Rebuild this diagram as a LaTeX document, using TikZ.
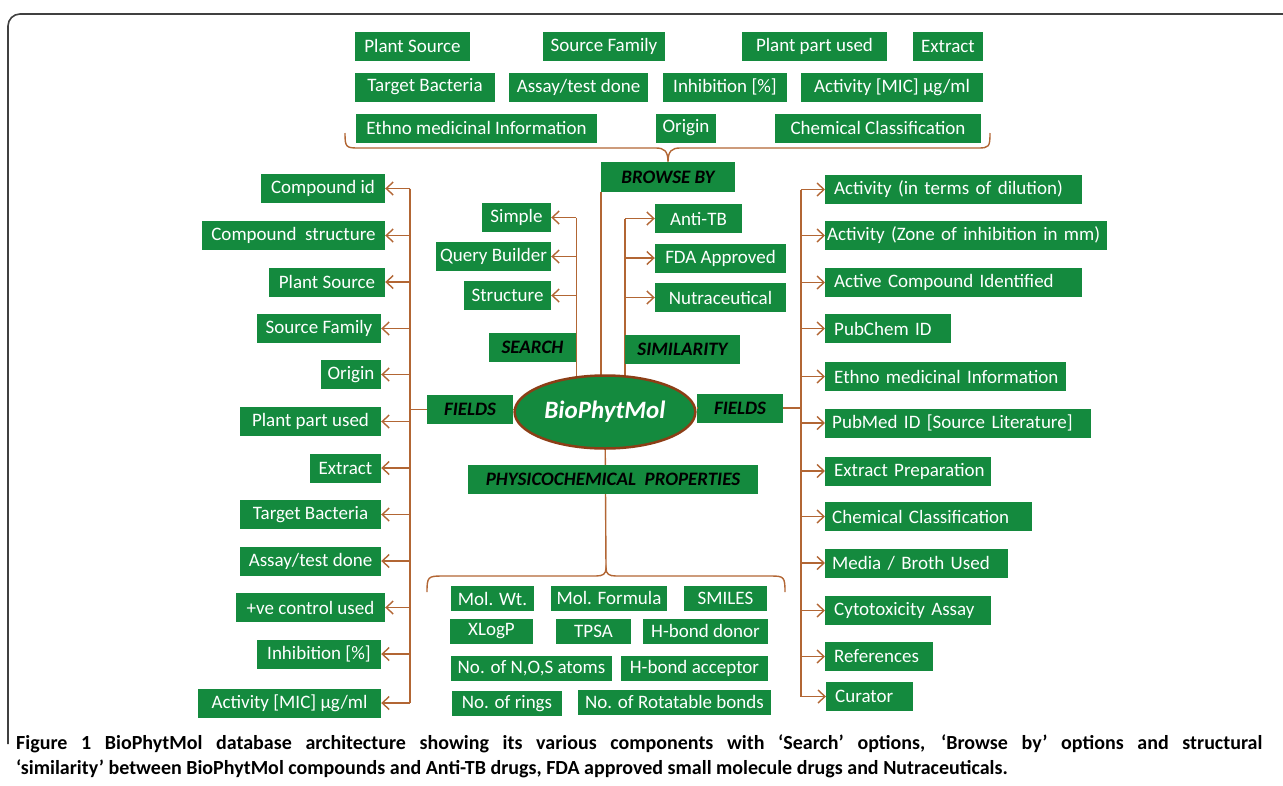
\documentclass[tikz,border=0pt]{standalone}
\usepackage{fontspec}
\setmainfont{Carlito}
\usetikzlibrary{shapes.geometric,arrows.meta,backgrounds}
\definecolor{boxgreen}{RGB}{20,138,62}
\definecolor{linebrown}{RGB}{178,102,52}
\definecolor{rimbrown}{RGB}{140,62,22}

\begin{document}
\begin{tikzpicture}[x=1pt, y=-1pt,
    box/.style={rectangle, fill=boxgreen, text=white, inner sep=0pt, minimum height=29pt, font=\fontsize{19}{22}\selectfont},
    small/.style={box, minimum height=25pt},
    head/.style={box, text=black, font=\fontsize{19}{22}\selectfont\bfseries\itshape},
    rbox/.style={box, anchor=west, inner xsep=9pt, execute at begin node={\hbox\bgroup}, execute at end node={\egroup}},
    link/.style={draw=linebrown, line width=1.4pt},
    arr/.style={link, -{Straight Barb[length=7pt, width=13pt]}}]
    \useasboundingbox (0,0) rectangle (1283,785);
    \draw [line width=1.6pt, black!75, rounded corners=12pt] (8,744) -- (8,14) -- (1283,14);

    % browse by
    \node [box, minimum width=115pt] (tplant) at (412.5,46) {Plant Source};
    \node [box, minimum width=122pt] (tfamily) at (604,46) {Source Family};
    \node [box, minimum width=145pt] (tpart) at (814.5,46) {Plant part used};
    \node [box, minimum width=70pt] (textract) at (948,46) {Extract};
    \node [box, minimum width=140pt] (tbact) at (425,87) {Target Bacteria};
    \node [box, minimum width=139pt] (tassay) at (578.5,87) {Assay/test done};
    \node [box, minimum width=124pt] (tinhib) at (725,87) {Inhibition [\%]};
    \node [box, minimum width=182pt] (tmic) at (892,87) {Activity [MIC] µg/ml};
    \node [box, minimum width=241pt] (tethno) at (476.5,128) {Ethno medicinal Information};
    \node [box, minimum width=60pt] (torigin) at (686,128) {Origin};
    \node [box, minimum width=206pt] (tchem) at (878,128) {Chemical Classification};
    \node [head, minimum width=134pt, minimum height=30pt] (browse) at (668,177) {BROWSE BY};
    \draw [link] (345,133) .. controls (345,147) and (346,148) .. (358,148) -- (656,148)
        .. controls (664,148) and (668,151) .. (browse.north)
        .. controls (668,151) and (672,148) .. (680,148) -- (978,148)
        .. controls (989,148) and (990,147) .. (990,133);

    % centre
    \node [ellipse, fill=boxgreen, draw=rimbrown, line width=2.5pt, minimum width=158pt, minimum height=73pt,
        text=white, font=\fontsize{25}{30}\selectfont\bfseries\itshape] (bio) at (605,412) {BioPhytMol};
    \node [head, minimum width=87pt] (search) at (532.5,347.5) {SEARCH};
    \node [head, minimum width=115pt] (simil) at (682.5,349.5) {SIMILARITY};
    \node [head, minimum width=86pt] (lfields) at (470,409.5) {FIELDS};
    \node [head, minimum width=86pt] (rfields) at (740,408) {FIELDS};
    \node [head, minimum width=290pt] (physico) at (613,479.5) {PHYSICOCHEMICAL\ \ PROPERTIES};

    % search and similarity
    \node [box, minimum width=69pt] (simple) at (516.5,217.5) {Simple};
    \node [box, minimum width=115pt] (query) at (493.5,256.5) {Query Builder};
    \node [box, minimum width=87pt] (struct) at (507.5,295.5) {Structure};
    \node [box, minimum width=87pt] (antitb) at (698.5,218.5) {Anti-TB};
    \node [box, minimum width=131pt] (fda) at (720.5,258) {FDA Approved};
    \node [box, minimum width=131pt] (nutra) at (720.5,297.5) {Nutraceutical};

    % fields, left
    \node [box, minimum width=124pt] (lcid) at (323,188.5) {Compound id};
    \node [box, minimum width=183pt] (lstruct) at (293.5,235.5) {Compound\ \ structure};
    \node [box, minimum width=116pt] (lplant) at (327,282) {Plant Source};
    \node [box, minimum width=124pt] (lfamily) at (319,328.5) {Source Family};
    \node [box, minimum width=60pt] (lorigin) at (351,374.5) {Origin};
    \node [box, minimum width=141pt] (lpart) at (310.5,421.5) {Plant part used};
    \node [box, minimum width=71pt] (lextract) at (345.5,468) {Extract};
    \node [box, minimum width=141pt] (lbact) at (310.5,514.5) {Target Bacteria};
    \node [box, minimum width=141pt] (lassay) at (310.5,561) {Assay/test done};
    \node [box, minimum width=149pt] (lcontrol) at (310.5,607.5) {+ve control used};
    \node [box, minimum width=124pt] (linhib) at (319,654) {Inhibition [\%]};
    \node [box, minimum width=183pt] (lmic) at (289.5,703) {Activity [MIC] µg/ml};

    % fields, right
    \node [rbox, text width=239pt] (r1) at (825,189.5) {Activity (in terms of dilution)};
    \node [rbox, text width=278pt, inner xsep=2pt] (r2) at (825,235.5) {Activity (Zone of inhibition in mm)};
    \node [rbox, text width=239pt] (r3) at (825,282.5) {Active Compound Identified};
    \node [rbox, text width=108pt] (r4) at (825,328.5) {PubChem ID};
    \node [rbox, text width=223pt] (r5) at (825,376.5) {Ethno medicinal Information};
    \node [rbox, text width=252pt, inner xsep=7pt] (r6) at (825,423) {PubMed ID [Source Literature]};
    \node [rbox, text width=148pt] (r7) at (825,471) {Extract Preparation};
    \node [rbox, text width=193pt, inner xsep=7pt] (r8) at (825,516.5) {Chemical Classification};
    \node [rbox, text width=169pt, inner xsep=7pt] (r9) at (825,563) {Media / Broth Used};
    \node [rbox, text width=148pt] (r10) at (825,610.5) {Cytotoxicity Assay};
    \node [rbox, text width=90pt] (r11) at (825,656.5) {References};
    \node [rbox, text width=69pt] (r12) at (826,696.5) {Curator};

    % physicochemical properties
    \node [small, minimum width=83pt] (bwt) at (492.5,598.5) {Mol. Wt.};
    \node [small, minimum width=116pt] (bform) at (609,598) {Mol. Formula};
    \node [small, minimum width=83pt] (bsmiles) at (725.5,598) {SMILES};
    \node [small, minimum width=83pt] (bxlogp) at (491.5,631) {XLogP};
    \node [small, minimum width=75pt] (btpsa) at (593.5,631) {TPSA};
    \node [small, minimum width=125pt] (bdonor) at (705.5,631) {H-bond donor};
    \node [small, minimum width=161pt] (bnos) at (531.5,668.5) {No. of N,O,S atoms};
    \node [small, minimum width=147pt] (bacc) at (694.5,668.5) {H-bond acceptor};
    \node [small, minimum width=110pt] (brings) at (507,703.5) {No. of rings};
    \node [small, minimum width=193pt] (brot) at (674.5,702) {No. of Rotatable bonds};
    \coordinate (ptip) at (606,568);
    \draw [link] (427,592) .. controls (427,577) and (428,576) .. (442,576) -- (596,576)
        .. controls (603,576) and (606,574) .. (ptip)
        .. controls (606,574) and (609,576) .. (616,576) -- (771,576)
        .. controls (784,576) and (785,577) .. (785,592);

    % connectors
    \begin{scope}[on background layer]
        \draw [link] (browse.south west) -- (browse.south west |- bio.center);
        \draw [link] (simple.east -| search.east) -- (search.east |- bio.center);
        \draw [link] (antitb.west -| simil.west) -- (simil.west |- bio.center);
        \draw [link] (bio.center) -- (ptip);
    \end{scope}
    \foreach \n in {simple, query, struct}
        \draw [arr] (\n.east -| search.east) -- (\n.east);
    \foreach \n in {antitb, fda, nutra}
        \draw [arr] (\n.west -| simil.west) -- (\n.west);

    \coordinate (lspine) at (410,0);
    \draw [link] (lcid.east -| lspine) -- (lmic.east -| lspine);
    \foreach \n in {lcid, lstruct, lplant, lfamily, lorigin, lpart, lextract, lbact, lassay, lcontrol, linhib, lmic}
        \draw [arr] (\n.east -| lspine) -- (\n.east);
    \draw [link] (lfields.east) -- (lfields.east -| bio.west);
    \draw [link] (lfields.west) -- (lfields.west -| lspine);

    \coordinate (rspine) at (801,0);
    \draw [link] (r1.west -| rspine) -- (r12.west -| rspine);
    \foreach \n in {r1, r2, r3, r4, r5, r6, r7, r8, r9, r10, r11, r12}
        \draw [arr] (\n.west -| rspine) -- (\n.west);
    \draw [link] (rfields.west) -- (rfields.west -| bio.east);
    \draw [link] (rfields.east) -- (rfields.east -| rspine);

    % caption
    \node [anchor=north west, text width=1246pt, align=justify, inner sep=0pt, font=\fontsize{20}{25}\selectfont\bfseries] (caption) at (16,735)
        {Figure 1 BioPhytMol database architecture showing its various components with `Search' options, `Browse by' options and structural\linebreak
         `similarity' between BioPhytMol compounds and Anti-TB drugs, FDA approved small molecule drugs and Nutraceuticals.};
\end{tikzpicture}
\end{document}
